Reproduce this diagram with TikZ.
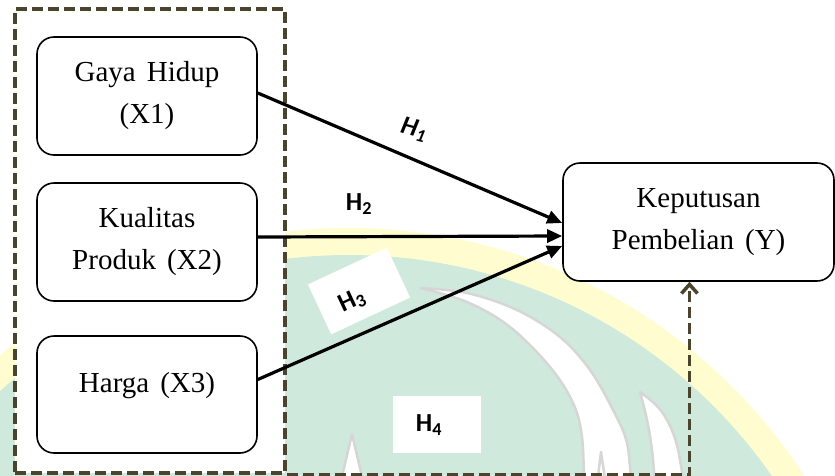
\documentclass[tikz,border=0pt]{standalone}
\usepackage{fontspec}
\setmainfont{Liberation Serif}
\newfontfamily\lblfont{Carlito}
\usetikzlibrary{arrows.meta,calc}
\definecolor{dashc}{RGB}{75,68,45}
\definecolor{wmgreen}{RGB}{207,234,220}
\definecolor{wmyellow}{RGB}{255,253,208}
\definecolor{wmgrey}{RGB}{214,214,214}
\newcommand\wsp{\hspace{11pt}}
\begin{document}
\begin{tikzpicture}[x=1pt,y=-1pt,
  box/.style={draw=black, line width=1.6pt, rounded corners=17pt, fill=white,
    minimum width=220pt, minimum height=118pt, align=center, inner sep=0pt,
    font=\fontsize{29}{42}\selectfont},
  grp/.style={draw=dashc, line width=3.5pt, dash pattern=on 11pt off 5pt, fill=white},
  grpline/.style={draw=dashc, line width=3.5pt, dash pattern=on 11pt off 5pt},
  arr/.style={line width=3.2pt, -{Triangle[length=15pt,width=13pt]}},
  lbl/.style={font=\lblfont\bfseries\fontsize{26}{30}\selectfont, inner sep=0pt},
  wm/.style={fill=white, draw=wmgrey, line width=2.5pt, line join=round}
]
\useasboundingbox (0,0) rectangle (835,475);
% watermark
\begin{scope}
  \clip (0,0) rectangle (835,475);
  \fill[wmyellow] (349,770) circle[radius=542pt];
  \fill[wmgreen] (349,770) circle[radius=515pt];
  \filldraw[wm] plot[smooth, tension=0.6] coordinates {(420,288) (467,293) (517,310) (560,337) (590,370) (613,410) (627,443) (631,485)}
     -- plot[smooth, tension=0.6] coordinates {(584,485) (582,437) (573,403) (550,367) (510,327) (467,302) (420,288)} -- cycle;
  \filldraw[wm] plot[smooth, tension=0.6] coordinates {(640,392) (656,405) (667,420) (677,445) (684,485)}
     -- plot[smooth, tension=0.6] coordinates {(655,485) (652,450) (647,420) (640,392)} -- cycle;
  \filldraw[wm] (352,434) -- (364,485) -- (340,485) -- cycle;
  \filldraw[wm] (601,452) -- (606,485) -- (597,485) -- cycle;
\end{scope}
% dashed group
\node[grp, minimum width=270pt, minimum height=464pt, inner sep=0pt] (grp) at (150,241) {};
% boxes
\node[box] (x1) at (147,96) {Gaya\wsp Hidup\\(X1)};
\node[box] (x2) at (147,242) {Kualitas\\Produk\wsp(X2)};
\node[box, minimum height=117pt, text height=20pt, text depth=25pt] (x3) at (147,394.5) {Harga\wsp(X3)};
\node[box, minimum width=271pt] (y) at (698.5,222) {Keputusan\\Pembelian\wsp(Y)};
% label backgrounds
\node[fill=white, minimum width=87pt, minimum height=55pt, rotate=25, inner sep=0pt] (h3box) at (359,291) {};
\node[fill=white, minimum width=88pt, minimum height=57pt, inner sep=0pt] (h4box) at (437,424.5) {};
% labels
\node[lbl, font=\lblfont\bfseries\itshape\fontsize{26}{30}\selectfont, rotate=-15] (h1) at (414,130) {H\textsubscript{1}};
\node[lbl] (h2) at (359,204) {H\textsubscript{2}};
\node[lbl, rotate=25] (h3) at (352,301) {H\textsubscript{3}};
\node[lbl] (h4) at (429,425) {H\textsubscript{4}};
% connectors
\draw[arr] ([yshift=3pt]x1.east) -- ([yshift=-1pt]y.west);
\draw[arr] ([yshift=5pt]x2.east) -- ([yshift=-14pt]y.west);
\draw[arr] ([yshift=15pt]x3.east) -- ([yshift=-24pt]y.west);
\draw[grpline, -{Straight Barb[length=9pt,width=16pt]}] (grp.south east) -| ([xshift=-9pt]y.south);
\end{tikzpicture}
\end{document}
